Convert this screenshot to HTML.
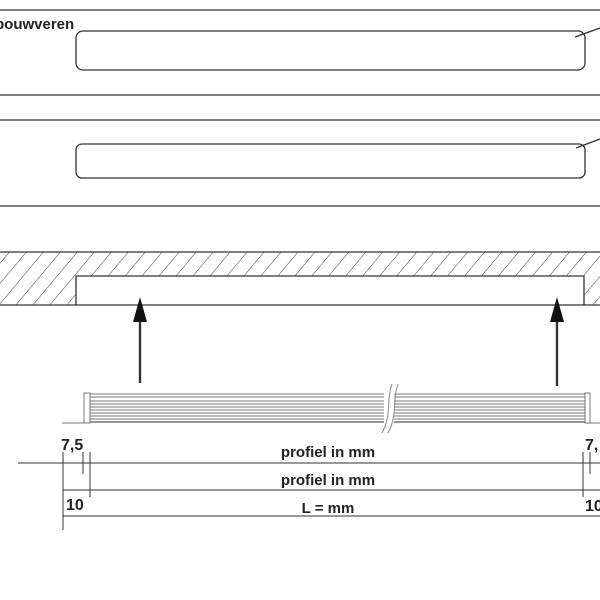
<!DOCTYPE html>
<html><head><style>body{margin:0;background:#fff}svg{display:block}text{font-family:"Liberation Sans",sans-serif;font-weight:bold;fill:#222}</style></head><body>
<svg width="600" height="600" viewBox="0 0 600 600" xmlns="http://www.w3.org/2000/svg">
<defs><pattern id="h" width="13" height="13" patternUnits="userSpaceOnUse" patternTransform="rotate(40)"><line x1="0" y1="0" x2="0" y2="13" stroke="#444" stroke-width="1"/></pattern></defs>
<g stroke="#333" stroke-width="1.3" fill="none">
<line x1="0" y1="10" x2="600" y2="10"/><line x1="0" y1="95" x2="600" y2="95"/>
<rect x="76" y="31" width="509" height="39" rx="7"/>
<line x1="575" y1="37" x2="600" y2="28"/>
<line x1="0" y1="120" x2="600" y2="120"/><line x1="0" y1="206" x2="600" y2="206"/>
<rect x="76" y="144" width="509" height="34" rx="6"/>
<line x1="576" y1="148" x2="600" y2="139"/>
</g>
<rect x="0" y="252" width="600" height="53" fill="url(#h)"/>
<rect x="76" y="276" width="508" height="29" fill="#fff"/>
<g stroke="#333" stroke-width="1.3" fill="none">
<line x1="0" y1="252" x2="600" y2="252"/><line x1="0" y1="305" x2="600" y2="305"/>
<polyline points="76,305 76,276 584,276 584,305"/>
<line x1="140" y1="383" x2="140" y2="320" stroke-width="2.4"/>
<line x1="557" y1="386" x2="557" y2="320" stroke-width="2.4"/>
</g>
<polygon points="140,297 133,322 147,322" fill="#111"/>
<polygon points="557,297 550,322 564,322" fill="#111"/>
<g stroke="#777" stroke-width="1" fill="none">
<rect x="84" y="393" width="6" height="30"/><rect x="585" y="393" width="5" height="30"/>
<line x1="90" y1="394" x2="585" y2="394"/><line x1="90" y1="397" x2="585" y2="397"/>
<line x1="90" y1="401" x2="585" y2="401"/><line x1="90" y1="404" x2="585" y2="404"/>
<line x1="90" y1="407" x2="585" y2="407"/><line x1="90" y1="410" x2="585" y2="410"/>
<line x1="90" y1="413" x2="585" y2="413"/><line x1="90" y1="416" x2="585" y2="416"/>
<line x1="90" y1="419" x2="585" y2="419"/><line x1="90" y1="422" x2="585" y2="422" stroke-width="1.5"/>
<line x1="62" y1="423" x2="84" y2="423"/><line x1="590" y1="423" x2="600" y2="423"/>
</g>
<rect x="384" y="385" width="10" height="50" fill="#fff"/>
<path d="M392,384 C386,400 392,415 382,433 M398,384 C392,400 398,415 388,433" stroke="#888" fill="none"/>
<g stroke="#333" stroke-width="1">
<line x1="18" y1="463" x2="600" y2="463"/><line x1="63" y1="490" x2="600" y2="490"/><line x1="63" y1="516" x2="600" y2="516"/>
<line x1="63" y1="452" x2="63" y2="530"/><line x1="83" y1="452" x2="83" y2="474"/><line x1="90" y1="452" x2="90" y2="497"/>
<line x1="583" y1="452" x2="583" y2="497"/><line x1="590" y1="452" x2="590" y2="474"/>
</g>
<text x="61" y="450" font-size="16">7,5</text>
<text x="585" y="450" font-size="16">7,</text>
<text x="328" y="457" font-size="15" text-anchor="middle">profiel in mm</text>
<text x="328" y="485" font-size="15" text-anchor="middle">profiel in mm</text>
<text x="66" y="510" font-size="16">10</text>
<text x="585" y="511" font-size="16">10</text>
<text x="328" y="513" font-size="15" text-anchor="middle">L = mm</text>
<text x="-5" y="29" font-size="15">bouwveren</text>
</svg>
</body></html>
